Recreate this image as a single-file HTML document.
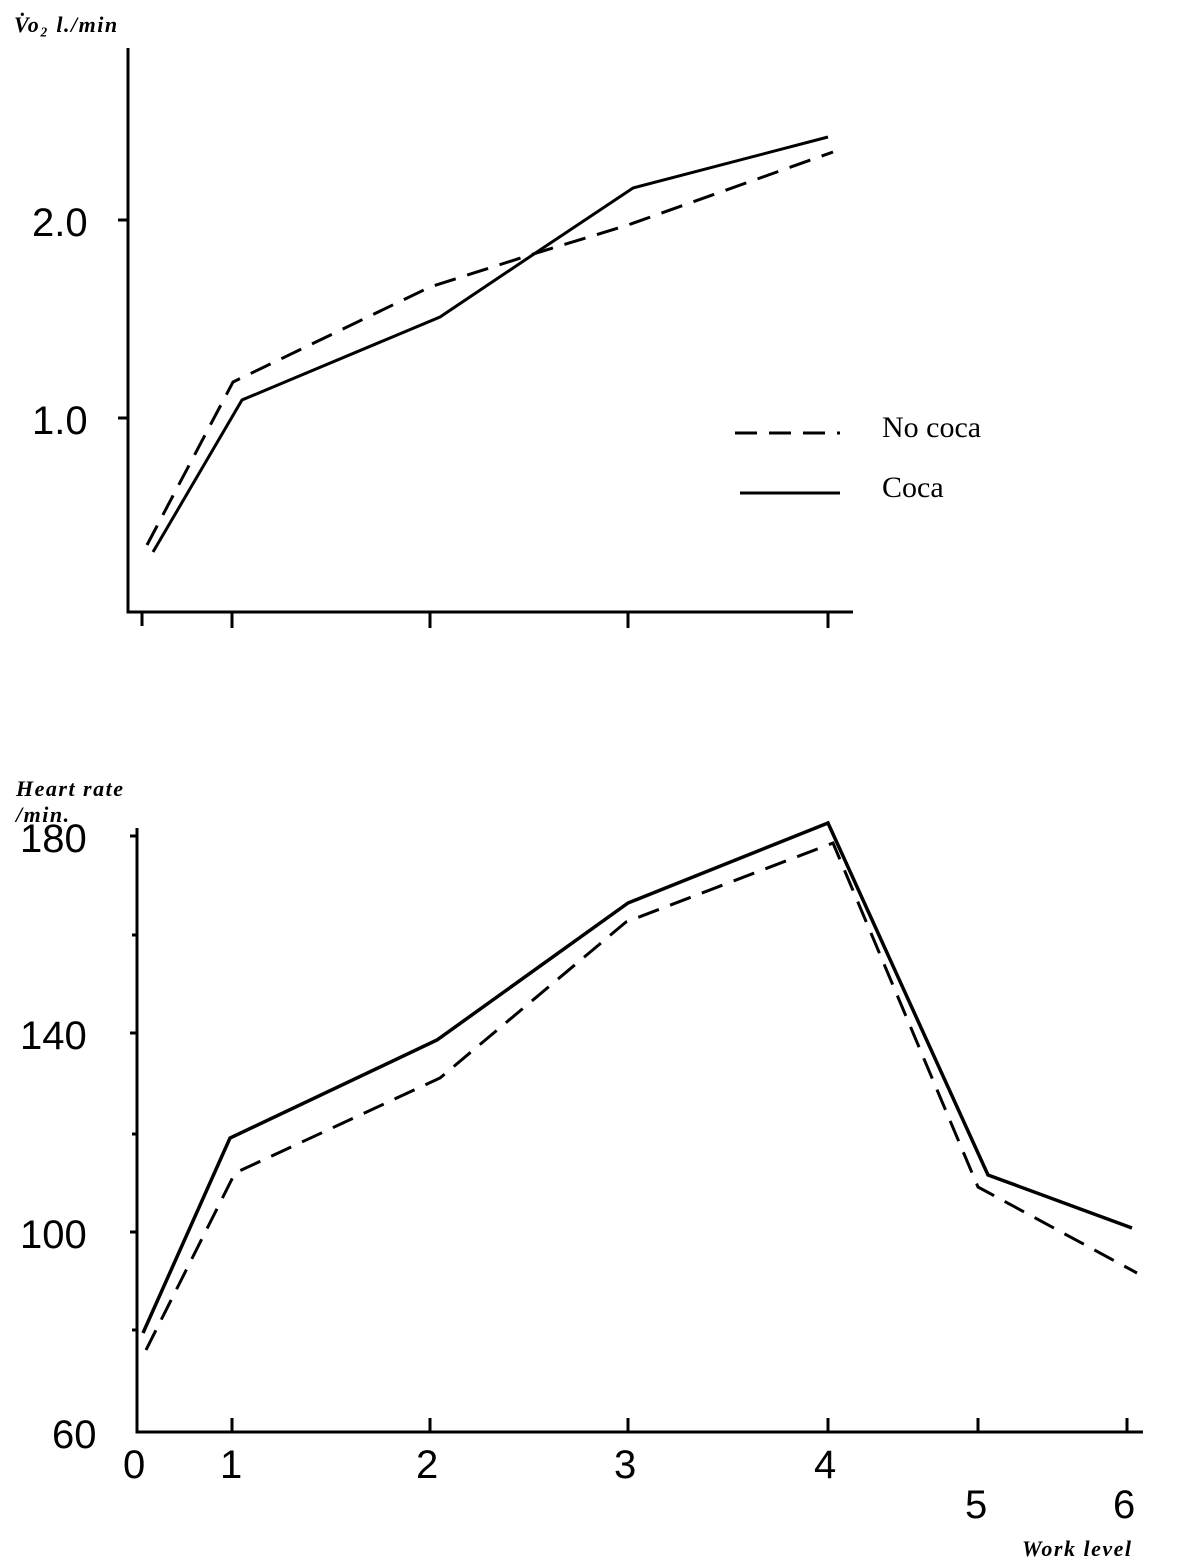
<!DOCTYPE html>
<html><head><meta charset="utf-8"><style>
html,body{margin:0;padding:0;background:#fff;}
svg{display:block;}
</style></head><body>
<svg width="1184" height="1568" viewBox="0 0 1184 1568" xmlns="http://www.w3.org/2000/svg">
<g stroke="#000" fill="none" stroke-width="3">
<path d="M128 48 V612 H853"/>
<path d="M142 612 V626 M232 612 V628 M430 612 V628 M628 612 V628 M828 612 V628"/>
<path d="M118 220 H128 M118 418 H128"/>
<polyline stroke-dasharray="22,12" points="147,545 233,382 430,287 530,255 628,225 833,152"/>
<polyline points="153,552 242,400 440,317 528,258 633,188 828,137"/>
<line x1="735" y1="433" x2="840" y2="433" stroke-dasharray="22,12"/>
<line x1="740" y1="493" x2="840" y2="493"/>
<path d="M137 828 V1432 H1143"/>
<path d="M130 836 H137 M132 935 H137 M130 1033 H137 M132 1134 H137 M130 1232 H137 M132 1330 H137"/>
<path d="M232 1418 V1432 M430 1418 V1432 M628 1418 V1432 M828 1418 V1432 M978 1418 V1432 M1127 1418 V1432"/>
<polyline stroke-width="3.5" points="143,1333 230,1138 437,1040 628,903 828,823 988,1175 1132,1228"/>
<polyline stroke-dasharray="22,12" points="146,1350 235,1173 440,1078 626,922 833,843 978,1187 1137,1273"/>
</g>
<g font-family="'Liberation Sans',sans-serif" font-size="40" fill="#000">
<text x="32" y="236">2.0</text>
<text x="32" y="434">1.0</text>
<text x="20" y="852">180</text>
<text x="20" y="1049">140</text>
<text x="20" y="1248">100</text>
<text x="52" y="1448">60</text>
<text x="123" y="1478">0</text>
<text x="220" y="1478">1</text>
<text x="416" y="1478">2</text>
<text x="614" y="1478">3</text>
<text x="814" y="1478">4</text>
<text x="965" y="1518">5</text>
<text x="1113" y="1518">6</text>
</g>
<g font-family="'Liberation Serif',serif" font-size="30" fill="#000">
<text x="882" y="437">No coca</text>
<text x="882" y="497">Coca</text>
</g>
<g font-family="'Liberation Serif',serif" font-style="italic" font-weight="bold" font-size="22" fill="#000" letter-spacing="1.5">
<text x="14" y="32">V̇o₂ l./min</text>
<text x="16" y="796">Heart rate</text>
<text x="16" y="822">/min.</text>
<text x="1022" y="1556">Work level</text>
</g>
</svg>
</body></html>
